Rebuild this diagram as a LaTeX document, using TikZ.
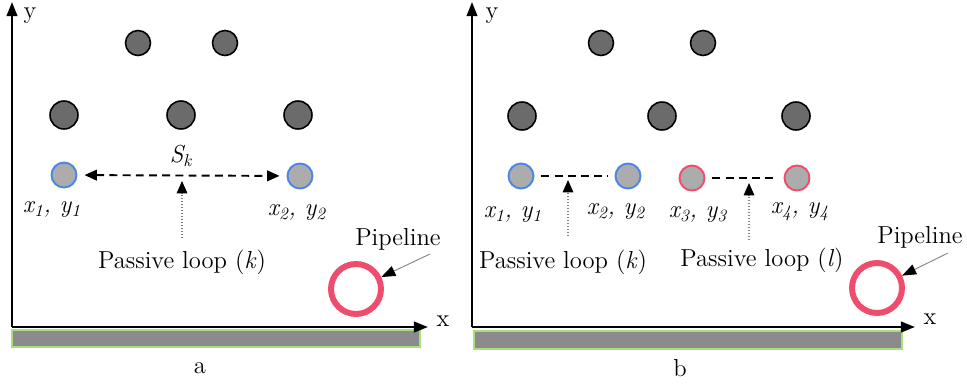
\documentclass[tikz,border=0pt]{standalone}
\usepackage{fontspec}
\usepackage{tikz}
\usetikzlibrary{arrows.meta}
\definecolor{loopblue}{HTML}{4A86E8}
\definecolor{loopred}{HTML}{EE4D6E}
\definecolor{rodgray}{HTML}{6B6B6B}
\definecolor{soilgray}{HTML}{8C8A8C}
\definecolor{edgegreen}{HTML}{A6E07A}

\newcommand{\xylab}[1]{\textit{x\textsubscript{#1}, y\textsubscript{#1}}}

\begin{document}
\begin{tikzpicture}[x=0.02cm, y=-0.02cm, font=\fontsize{14}{16}\selectfont,
  rod/.style={circle, draw=black, fill=rodgray, line width=0.9pt, minimum size=0.56cm, inner sep=0pt},
  rodsmall/.style={rod, minimum size=0.5cm},
  loopk/.style={circle, draw=loopblue, fill=gray!65, line width=1.1pt, minimum size=0.5cm, inner sep=0pt},
  loopl/.style={loopk, draw=loopred},
  pipe/.style={circle, draw=loopred, line width=3.4pt, minimum size=1.0cm, inner sep=0pt},
  axis/.style={line width=1.2pt, -{Triangle[length=8pt,width=6pt]}},
  span/.style={dash pattern=on 4.5pt off 3pt, line width=1.1pt, shorten <=4pt, shorten >=4pt},
  pointer/.style={densely dotted, gray, line width=0.7pt, -{Triangle[black,length=7pt,width=6pt]}},
  callout/.style={gray, line width=0.5pt, -{Triangle[black,length=8pt,width=6pt]}}]
  \useasboundingbox (0,0) rectangle (967,389);

  % panel a
  \fill[soilgray] (12,330) rectangle (420,347);
  \draw[edgegreen, line width=1pt] (12,330) rectangle (420,347);
  \coordinate (oa) at (12,327);
  \coordinate (xa) at (428,327);
  \coordinate (ya) at (12,2);
  \draw[axis] (oa) -- (xa);
  \draw[axis] (oa) -- (ya);
  \node (xlaba) at (443,321) {x};
  \node[inner sep=1pt] (ylaba) at (30,16) {y};
  \node (capa) at (200,368) {a};

  \node[rodsmall] (ra1) at (138,43) {};
  \node[rodsmall] (ra2) at (225,43) {};
  \node[rod] (ra3) at (64,115) {};
  \node[rod] (ra4) at (181,115) {};
  \node[rod] (ra5) at (298,115) {};

  \node[loopk] (a1) at (64,175) {};
  \node[loopk] (a2) at (300,176) {};
  \draw[span, {Triangle[length=7pt,width=6pt]}-{Triangle[length=7pt,width=6pt]}] (a1) -- (a2);
  \node (ska) at (181,156) {\textit{S\textsubscript{k}}};
  \node (pa1) at (52,210) {\xylab{1}};
  \node (pa2) at (297,213) {\xylab{2}};
  \node (lka) at (182,262) {Passive loop (\textit{k})};
  \coordinate (ta) at (182,238);
  \coordinate (ha) at (182,181);
  \draw[pointer] (ta) -- (ha);

  \node[pipe] (pipea) at (356,289) {};
  \node (pipelaba) at (398,239) {Pipeline};
  \coordinate (ca) at (430,254);
  \draw[callout] (ca) -- (pipea);

  % panel b
  \fill[soilgray] (474,331) rectangle (902,349);
  \draw[edgegreen, line width=1pt] (474,331) rectangle (902,349);
  \coordinate (ob) at (472,327);
  \coordinate (xb) at (915,327);
  \coordinate (yb) at (472,2);
  \draw[axis] (ob) -- (xb);
  \draw[axis] (ob) -- (yb);
  \node (xlabb) at (930,319) {x};
  \node[inner sep=1pt] (ylabb) at (492,16) {y};
  \node (capb) at (680,368) {b};

  \node[rodsmall] (rb1) at (601,43) {};
  \node[rodsmall] (rb2) at (703,43) {};
  \node[rod] (rb3) at (522,116) {};
  \node[rod] (rb4) at (662,116) {};
  \node[rod] (rb5) at (796,116) {};

  \node[loopk] (b1) at (521,176) {};
  \node[loopk] (b2) at (628,176) {};
  \node[loopl] (b3) at (692,178) {};
  \node[loopl] (b4) at (797,178) {};
  \draw[span] (b1) -- (b2);
  \draw[span] (b3) -- (b4);
  \node (pb1) at (513,215) {\xylab{1}};
  \node (pb2) at (616,212) {\xylab{2}};
  \node (pb3) at (698,215) {\xylab{3}};
  \node (pb4) at (800,212) {\xylab{4}};
  \node (lkb) at (563,262) {Passive loop (\textit{k})};
  \node (llb) at (762,260) {Passive loop (\textit{l})};
  \coordinate (tb1) at (568,236);
  \coordinate (hb1) at (568,180);
  \draw[pointer] (tb1) -- (hb1);
  \coordinate (tb2) at (749,240);
  \coordinate (hb2) at (749,183);
  \draw[pointer] (tb2) -- (hb2);

  \node[pipe] (pipeb) at (877,288) {};
  \node (pipelabb) at (920,237) {Pipeline};
  \coordinate (cb) at (948,253);
  \draw[callout] (cb) -- (pipeb);
\end{tikzpicture}
\end{document}
